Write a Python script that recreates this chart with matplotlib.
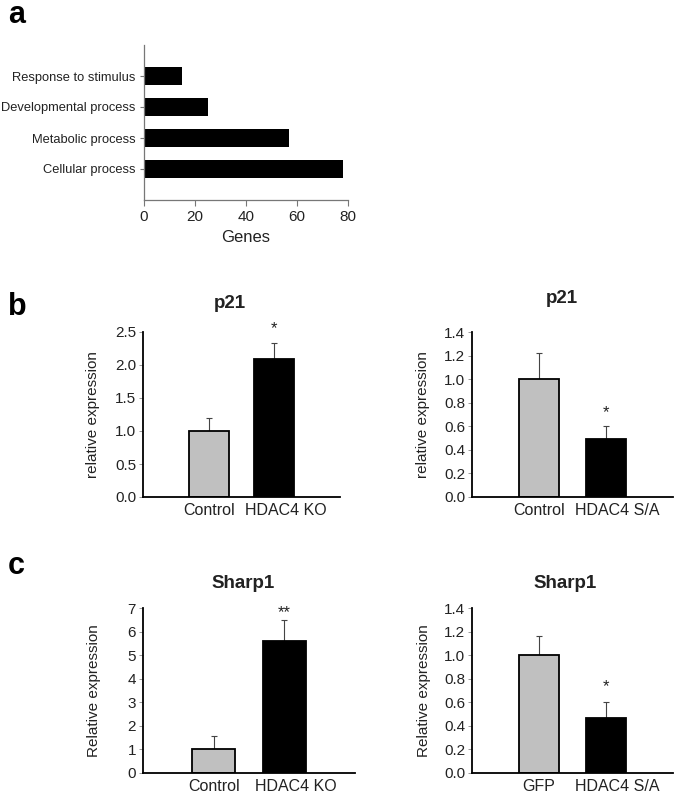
import matplotlib
matplotlib.use("Agg")
from matplotlib import pyplot as plt
from matplotlib.transforms import ScaledTranslation
import numpy as np

plt.rcParams["font.family"] = ["Liberation Sans", "DejaVu Sans"]

# panel a: GO terms
go_terms = ["Cellular process", "Metabolic process", "Developmental process", "Response to stimulus"]
go_genes = [78, 57, 25, 15]

# panel b: p21
p21_ko_groups = ["Control", "HDAC4 KO"]
p21_ko_mean = [1.0, 2.09]
p21_ko_err = [0.19, 0.25]
p21_ko_sig = "*"

p21_sa_groups = ["Control", "HDAC4 S/A"]
p21_sa_mean = [1.0, 0.49]
p21_sa_err = [0.225, 0.11]
p21_sa_sig = "*"

# panel c: Sharp1
sharp1_ko_groups = ["Control", "HDAC4 KO"]
sharp1_ko_mean = [1.0, 5.62]
sharp1_ko_err = [0.58, 0.86]
sharp1_ko_sig = "**"

sharp1_sa_groups = ["GFP", "HDAC4 S/A"]
sharp1_sa_mean = [1.0, 0.47]
sharp1_sa_err = [0.165, 0.13]
sharp1_sa_sig = "*"

W, H = 675, 795
fig = plt.figure(figsize=(W / 100, H / 100), dpi=100)


def px_axes(left, top, right, bottom):
    # axes from pixel box
    return fig.add_axes([left / W, 1 - bottom / H, (right - left) / W, (bottom - top) / H])


# ---- panel a ----
ax = px_axes(144, 45, 348, 200)
pos = np.arange(1, len(go_terms) + 1)
ax.barh(pos, go_genes, height=0.6, color="black")
ax.set_ylim(0, 5)
ax.set_xlim(0, 80)
ax.set_yticks(pos)
ax.set_yticklabels(go_terms, fontsize=9.3, color="#222222")
ax.set_xticks([0, 20, 40, 60, 80])
ax.tick_params(axis="x", labelsize=11, colors="#222222", length=4, width=0.8, color="#777777")
ax.tick_params(axis="y", length=3, width=0.8, color="#777777", pad=3)
ax.set_xlabel("Genes", fontsize=12, color="#222222", labelpad=4)
for s in ["top", "right"]:
    ax.spines[s].set_visible(False)
for s in ["left", "bottom"]:
    ax.spines[s].set_color("#777777")
    ax.spines[s].set_linewidth(0.9)


def bar_panel(box, groups, mean, err, sig, star_px, ymax, step, fmt, title, ylabel, title_xy, ylab_px):
    ax = px_axes(*box)
    x = np.arange(1, len(groups) + 1)
    ax.bar(x, mean, width=0.61, color=["#c0c0c0", "black"], edgecolor="black", linewidth=1.3, zorder=2)
    ax.errorbar(x, mean, yerr=[np.zeros(len(err)), err], fmt="none", ecolor="#444444",
                elinewidth=0.8, capsize=2.5, capthick=0.8, zorder=1)
    top = np.array(mean) + np.array(err)
    ax.annotate(sig, (x[1], top[1]), xytext=(0, star_px * 0.72), textcoords="offset points",
                ha="center", va="center", fontsize=12, color="#222222")
    ax.set_xlim(0, 3)
    ax.set_ylim(0, ymax)
    ax.set_yticks(np.arange(0, ymax + step / 2, step))
    ax.yaxis.set_major_formatter(plt.FormatStrFormatter(fmt))
    ax.set_xticks(x)
    ax.set_xticklabels(groups)
    ax.tick_params(axis="x", labelsize=11.5, colors="#222222", length=0, pad=4)
    ax.tick_params(axis="y", labelsize=11, labelcolor="#222222", length=3, width=0.6,
                   color="#888888", pad=2)
    # second label sits a little right of its bar in the original
    lab = ax.get_xticklabels()[1]
    lab.set_transform(lab.get_transform() + ScaledTranslation(0.11, 0, fig.dpi_scale_trans))
    for s in ["top", "right"]:
        ax.spines[s].set_visible(False)
    for s in ["left", "bottom"]:
        ax.spines[s].set_linewidth(1.3)
    w = box[2] - box[0]
    ax.set_ylabel(ylabel, fontsize=11, color="#222222")
    ax.yaxis.set_label_coords(-ylab_px / w, 0.5)
    ax.text(title_xy[0], title_xy[1], title, transform=ax.transAxes, ha="center", va="center",
            fontsize=13.5, fontweight="bold", color="#222222")
    return ax


bar_panel((143, 332, 340, 497), p21_ko_groups, p21_ko_mean, p21_ko_err, p21_ko_sig, 14,
          2.5, 0.5, "%.1f", "p21", "relative expression", (0.44, 1.17), 43)
bar_panel((472, 332, 673, 497), p21_sa_groups, p21_sa_mean, p21_sa_err, p21_sa_sig, 14,
          1.4, 0.2, "%.1f", "p21", "relative expression", (0.448, 1.2), 42)
bar_panel((143, 608, 355, 773), sharp1_ko_groups, sharp1_ko_mean, sharp1_ko_err, sharp1_ko_sig, 8,
          7, 1, "%d", "Sharp1", "Relative expression", (0.47, 1.15), 42)
bar_panel((472, 608, 673, 773), sharp1_sa_groups, sharp1_sa_mean, sharp1_sa_err, sharp1_sa_sig, 16,
          1.4, 0.2, "%.1f", "Sharp1", "Relative expression", (0.463, 1.15), 41)

# panel letters
for letter, ypx in [("a", 15), ("b", 307), ("c", 566)]:
    fig.text(8 / W, 1 - ypx / H, letter, fontsize=22, fontweight="bold", va="center", ha="left")

fig.savefig("out.png", dpi=100)
